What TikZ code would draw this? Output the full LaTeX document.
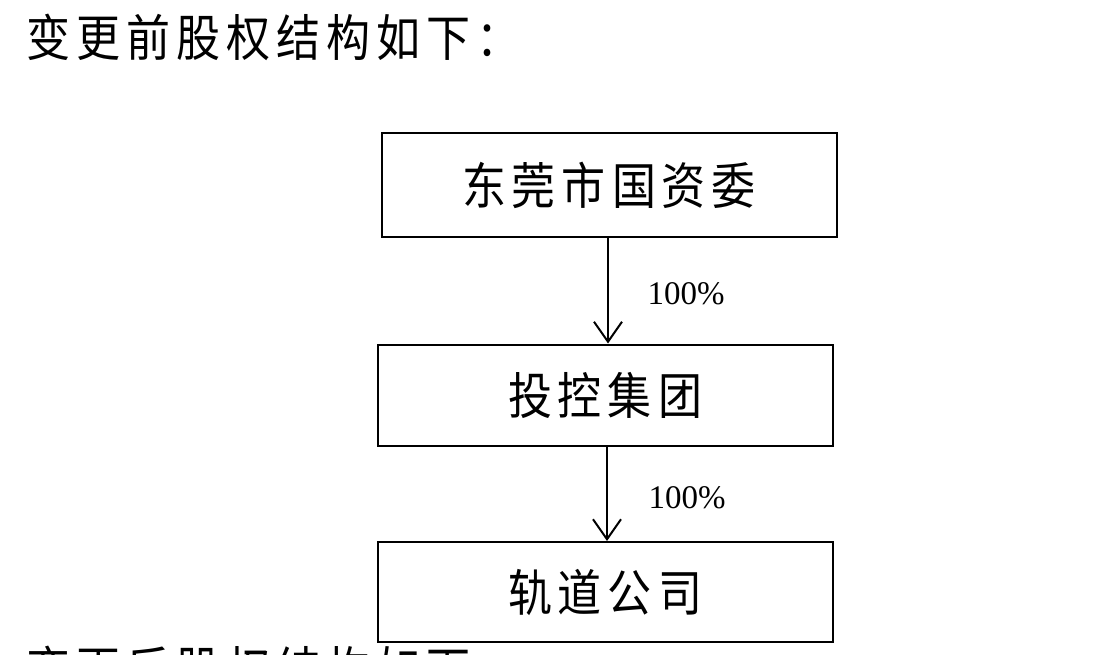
\documentclass[tikz,border=0pt]{standalone}
\usepackage{fontspec}
\setmainfont{Liberation Serif}
\newfontfamily\cjk[FakeStretch=0.88,LetterSpace=12]{Noto Sans CJK SC}
\usetikzlibrary{arrows.meta}
\begin{document}
\begin{tikzpicture}[x=1pt,y=-1pt,
  box/.style={draw, line width=2pt, minimum width=455pt, inner sep=0pt, font=\cjk\fontsize{50}{52}\selectfont},
  arr/.style={line width=2pt, -{Straight Barb[length=20pt,width=28pt,line width=2pt]}},
  pct/.style={font=\fontsize{33}{36}\selectfont},
  ttl/.style={anchor=base west, inner sep=0pt, font=\cjk\fontsize{50}{52}\selectfont}]
\useasboundingbox (0,0) rectangle (1098,654);
\begin{scope}
\clip (0,0) rectangle (1098,654);
\node[ttl] (title) at (26,56) {变更前股权结构如下：};
\node[ttl] (next) at (26,688) {变更后股权结构如下：};
\node[box, minimum height=104pt] (b1) at (609,185) {东莞市国资委};
\node[box, minimum height=101pt] (b2) at (605,395) {投控集团};
\node[box, minimum height=100pt] (b3) at (605,592) {轨道公司};
\draw[arr] ([xshift=-1pt]b1.south) -- ([xshift=-1pt]b1.south |- b2.north);
\draw[arr] ([xshift=2pt]b2.south) -- ([xshift=2pt]b2.south |- b3.north);
\node[pct] (p1) at (686,294) {100\%};
\node[pct] (p2) at (687,498) {100\%};
\end{scope}
\end{tikzpicture}
\end{document}
